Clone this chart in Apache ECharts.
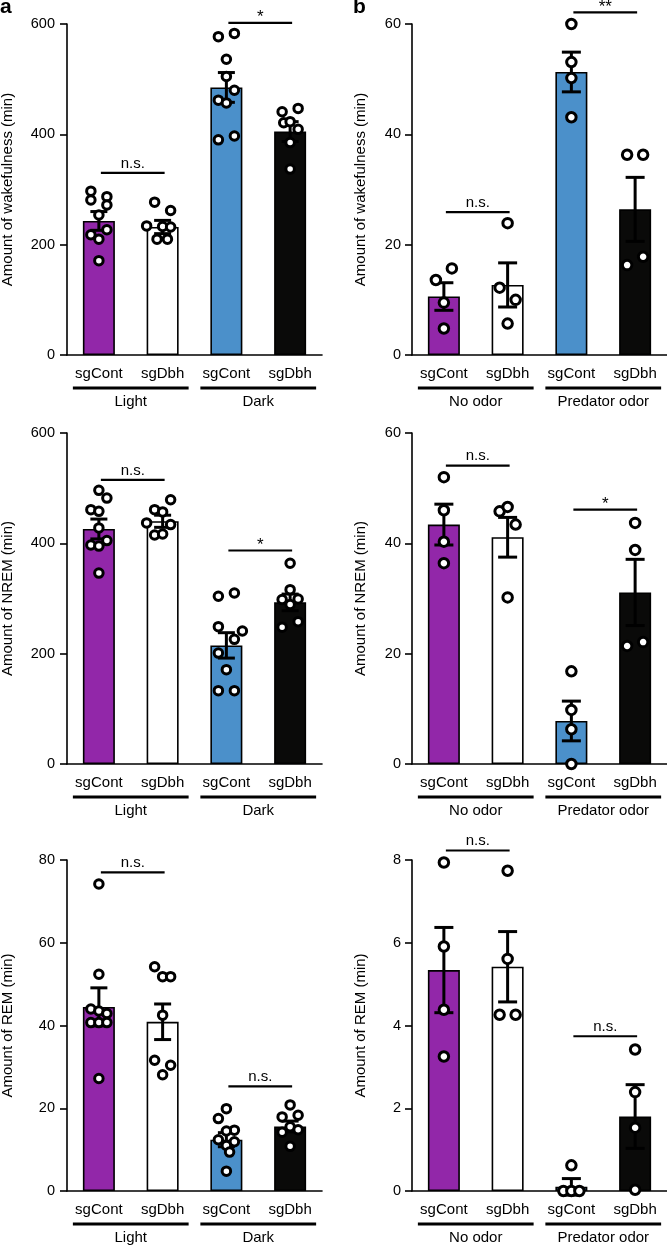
<!DOCTYPE html>
<html><head><meta charset="utf-8">
<script src="https://cdn.jsdelivr.net/npm/echarts@6/dist/echarts.min.js"></script>
<style>html,body{margin:0;padding:0;background:#fff}#c{width:667px;height:1246px}</style>
</head><body><div id="c"></div>
<script>
// ---------- data ----------
const categories = ['sgCont', 'sgDbh', 'sgCont', 'sgDbh'];
const groupsA = ['Light', 'Dark'];
const groupsB = ['No odor', 'Predator odor'];
const groupSpans = [[0, 1], [2, 3]];

// Panel a - wakefulness
const wakeA_mean = [243, 232, 485, 405];
const wakeA_sem = [17, 12, 27, 18];
const wakeA_pts = [
  [297, 281, 287, 272, 254, 218, 210, 227, 171],
  [277, 262, 234, 233, 232, 210, 210],
  [577, 583, 536, 505, 462, 480, 457, 390, 397],
  [441, 447, 421, 423, 409, 385, 337]
];
const wakeA_jit = [
  [-1, -1, 1, 1, 0, -1, 0, 1, 0],
  [-1, 1, -2, 0, 1, -0.7, 0.6],
  [-1, 1, 0, 0, -1, 1, 0, -1, 1],
  [-1, 1, -0.8, 0, 1, 0, 0]
];
const wakeA_sigFrom = [0, 2], wakeA_sigTo = [1, 3], wakeA_sigY = [330, 602], wakeA_sigLabel = ['n.s.', '*'];

// Panel b - wakefulness
const wakeB_mean = [10.6, 12.7, 51.3, 26.4];
const wakeB_sem = [2.5, 4.0, 3.6, 5.8];
const wakeB_pts = [
  [13.6, 15.7, 9.5, 4.8],
  [23.9, 12.2, 10.0, 5.7],
  [60.0, 53.1, 50.2, 43.1],
  [36.3, 36.3, 16.3, 17.8]
];
const wakeB_jit = [[-1, 1, 0, 0], [0, -1, 1, 0], [0, 0, 0, 0], [-1, 1, -1, 1]];
const wakeB_sigFrom = [0, 2], wakeB_sigTo = [1, 3], wakeB_sigY = [25.9, 62.1], wakeB_sigLabel = ['n.s.', '**'];

// Panel a - NREM
const nremA_mean = [426, 440, 215, 293];
const nremA_sem = [18, 11, 23, 15];
const nremA_pts = [
  [496, 482, 461, 458, 428, 397, 405, 395, 346],
  [479, 461, 457, 437, 434, 415, 417],
  [304, 310, 249, 241, 226, 201, 171, 133, 133],
  [364, 316, 298, 299, 289, 248, 258]
];
const nremA_jit = [
  [0, 1, -1, 0, 0, -1, 1, 0, 0],
  [1, -1, 0, -2, 1, -1, 0],
  [-1, 1, -1, 2, 1, -1, 0, -1, 1],
  [0, 0, -1, 1, 0, -1, 1]
];
const nremA_sigFrom = [0, 2], nremA_sigTo = [1, 3], nremA_sigY = [515, 387], nremA_sigLabel = ['n.s.', '*'];

// Panel b - NREM
const nremB_mean = [43.4, 41.1, 7.8, 31.1];
const nremB_sem = [3.7, 3.6, 3.6, 6.0];
const nremB_pts = [
  [52.0, 46.0, 40.3, 36.4],
  [45.8, 46.6, 43.4, 30.2],
  [16.8, 9.8, 6.3, 0.0],
  [43.7, 38.8, 21.4, 22.1]
];
const nremB_jit = [[0, 0, 0, 0], [-1, 0, 1, 0], [0, 0, 0, 0], [0, 0, -1, 1]];
const nremB_sigFrom = [0, 2], nremB_sigTo = [1, 3], nremB_sigY = [54.1, 46.1], nremB_sigLabel = ['n.s.', '*'];

// Panel a - REM
const remA_mean = [44.5, 40.9, 12.4, 15.6];
const remA_sem = [4.6, 4.3, 1.7, 1.3];
const remA_pts = [
  [74.2, 52.4, 44.0, 43.5, 42.9, 40.7, 40.7, 40.7, 27.2],
  [54.2, 51.8, 51.8, 42.5, 31.6, 30.4, 28.1],
  [19.9, 17.5, 14.7, 14.5, 12.4, 11.9, 11.0, 9.4, 4.8],
  [20.8, 17.9, 18.3, 15.5, 14.2, 14.8, 10.8]
];
const remA_jit = [
  [0, 0, -1, 0, 1, -1, 0, 1, 0],
  [-1, 0, 1, 0, -1, 1, 0],
  [0, -1, 1, 0, -1, 1, 0, 0.4, 0],
  [0, -1, 1, 0, -1, 1, 0]
];
const remA_sigFrom = [0, 2], remA_sigTo = [1, 3], remA_sigY = [77.0, 25.3], remA_sigLabel = ['n.s.', 'n.s.'];

// Panel b - REM
const remB_mean = [5.34, 5.42, 0.10, 1.80];
const remB_sem = [1.03, 0.85, 0.20, 0.77];
const remB_pts = [
  [7.94, 5.91, 4.38, 3.25],
  [7.74, 5.61, 4.26, 4.26],
  [0.62, 0.0, 0.0, 0.0],
  [3.42, 2.39, 1.53, 0.03]
];
const remB_jit = [[0, 0, 0, 0], [0, 0, -1, 1], [0, -1, 0, 1], [0, 0, 0, 0]];
const remB_sigFrom = [0, 2], remB_sigTo = [1, 3], remB_sigY = [8.23, 3.74], remB_sigLabel = ['n.s.', 'n.s.'];

const yNames = ['Amount of wakefulness (min)', 'Amount of NREM (min)', 'Amount of REM (min)'];
const yMaxA = [600, 600, 80], yIntA = [200, 200, 20];
const yMaxB = [60, 60, 8], yIntB = [20, 20, 2];

// ---------- styling / layout ----------
const barColors = ['#9227A9', '#ffffff', '#4B90CA', '#0A0A09'];
const FONT = '"Liberation Sans", Arial, Helvetica, sans-serif';
const colLeft = [67, 412], rowTop = [24, 433, 860], gridW = 255, gridH = 331;

const panels = [
  {col: 0, row: 0, mean: wakeA_mean, sem: wakeA_sem, pts: wakeA_pts, jit: wakeA_jit, sf: wakeA_sigFrom, st: wakeA_sigTo, sy: wakeA_sigY, sl: wakeA_sigLabel, groups: groupsA, max: yMaxA[0], int: yIntA[0], name: yNames[0]},
  {col: 1, row: 0, mean: wakeB_mean, sem: wakeB_sem, pts: wakeB_pts, jit: wakeB_jit, sf: wakeB_sigFrom, st: wakeB_sigTo, sy: wakeB_sigY, sl: wakeB_sigLabel, groups: groupsB, max: yMaxB[0], int: yIntB[0], name: yNames[0]},
  {col: 0, row: 1, mean: nremA_mean, sem: nremA_sem, pts: nremA_pts, jit: nremA_jit, sf: nremA_sigFrom, st: nremA_sigTo, sy: nremA_sigY, sl: nremA_sigLabel, groups: groupsA, max: yMaxA[1], int: yIntA[1], name: yNames[1]},
  {col: 1, row: 1, mean: nremB_mean, sem: nremB_sem, pts: nremB_pts, jit: nremB_jit, sf: nremB_sigFrom, st: nremB_sigTo, sy: nremB_sigY, sl: nremB_sigLabel, groups: groupsB, max: yMaxB[1], int: yIntB[1], name: yNames[1]},
  {col: 0, row: 2, mean: remA_mean, sem: remA_sem, pts: remA_pts, jit: remA_jit, sf: remA_sigFrom, st: remA_sigTo, sy: remA_sigY, sl: remA_sigLabel, groups: groupsA, max: yMaxA[2], int: yIntA[2], name: yNames[2]},
  {col: 1, row: 2, mean: remB_mean, sem: remB_sem, pts: remB_pts, jit: remB_jit, sf: remB_sigFrom, st: remB_sigTo, sy: remB_sigY, sl: remB_sigLabel, groups: groupsB, max: yMaxB[2], int: yIntB[2], name: yNames[2]}
];

const grid = [], xAxis = [], yAxis = [], series = [];
panels.forEach((p, i) => {
  const isB = p.col === 1;
  grid.push({left: colLeft[p.col], top: rowTop[p.row], width: gridW, height: gridH, containLabel: false, outerBoundsMode: 'none'});
  xAxis.push({
    type: 'category', gridIndex: i, data: categories,
    axisLine: {onZero: false, lineStyle: {color: '#000', width: 1.6}},
    axisTick: {alignWithLabel: true, length: 8, lineStyle: {color: '#000', width: 1.6}},
    axisLabel: {interval: 0, fontSize: 15, color: '#000', margin: 11, fontFamily: FONT},
    splitLine: {show: false}
  });
  xAxis.push({type: 'value', gridIndex: i, min: -0.5, max: 3.5, show: false,
    axisLine: {show: false, onZero: false}, axisTick: {show: false}, axisLabel: {show: false}, splitLine: {show: false}});
  yAxis.push({
    type: 'value', gridIndex: i, min: 0, max: p.max, interval: p.int,
    axisLine: {show: true, onZero: false, lineStyle: {color: '#000', width: 1.6}},
    axisTick: {show: true, length: 7, lineStyle: {color: '#000', width: 1.6}},
    axisLabel: {fontSize: 14.5, color: '#000', margin: isB ? 11 : 12, fontFamily: FONT},
    splitLine: {show: false},
    name: p.name, nameLocation: 'middle', nameGap: isB ? 44 : 52, nameRotate: 90,
    nameTextStyle: {fontSize: 15, color: '#000', fontFamily: FONT}
  });
  // bars
  series.push({
    type: 'bar', xAxisIndex: 2 * i, yAxisIndex: i, barWidth: 32, z: 2,
    data: p.mean.map((v, k) => ({value: v, itemStyle: {color: barColors[k], borderColor: '#000', borderWidth: 1.6}})),
    silent: true
  });
  // error bars
  const capW = isB ? 19 : 17, ew = 3;
  series.push({
    type: 'custom', xAxisIndex: 2 * i, yAxisIndex: i, z: 3, silent: true,
    encode: {x: 0, y: 1},
    data: p.mean.map((m, k) => [k, m, p.sem[k]]),
    renderItem: (params, api) => {
      const x = api.value(0), m = api.value(1), s = api.value(2);
      const t = api.coord([x, m + s]), b = api.coord([x, m - s]);
      const st = {stroke: '#000', lineWidth: ew, fill: null};
      return {type: 'group', children: [
        {type: 'line', shape: {x1: t[0], y1: t[1], x2: b[0], y2: b[1]}, style: st},
        {type: 'line', shape: {x1: t[0] - capW / 2, y1: t[1], x2: t[0] + capW / 2, y2: t[1]}, style: st},
        {type: 'line', shape: {x1: b[0] - capW / 2, y1: b[1], x2: b[0] + capW / 2, y2: b[1]}, style: st}
      ]};
    }
  });
  // points
  const spread = 8 / (gridW / 4);
  const pts = [];
  p.pts.forEach((arr, k) => arr.forEach((v, j) => pts.push([k + p.jit[k][j] * spread, v])));
  series.push({
    type: 'scatter', xAxisIndex: 2 * i + 1, yAxisIndex: i, z: 4, silent: true,
    symbol: 'circle', symbolSize: isB ? 9.5 : 8.5,
    itemStyle: {color: '#fff', borderColor: '#000', borderWidth: 3, opacity: 1},
    data: pts, clip: false
  });
  // significance bars
  series.push({
    type: 'custom', xAxisIndex: 2 * i, yAxisIndex: i, z: 5, silent: true, clip: false,
    encode: {x: 0, y: 2},
    data: p.sf.map((f, k) => [f, p.st[k], p.sy[k]]),
    renderItem: (params, api) => {
      const a = api.coord([api.value(0), api.value(2)]), b = api.coord([api.value(1), api.value(2)]);
      const lbl = p.sl[params.dataIndex];
      const star = lbl.indexOf('*') >= 0;
      return {type: 'group', children: [
        {type: 'line', shape: {x1: a[0] + 2, y1: a[1], x2: b[0] + 2, y2: b[1]}, style: {stroke: '#000', lineWidth: 2.2}},
        {type: 'text', style: {text: lbl, x: (a[0] + b[0]) / 2 + 2, y: star ? a[1] + 3 : a[1] - 2, align: 'center', verticalAlign: 'bottom', fontSize: star ? 17 : 15, fontFamily: FONT, fill: '#000'}}
      ]};
    }
  });
  // group underlines + labels
  series.push({
    type: 'custom', xAxisIndex: 2 * i, yAxisIndex: i, z: 5, silent: true, clip: false,
    encode: {x: 0, y: 2},
    data: groupSpans.map(g => [g[0], g[1], 0]),
    renderItem: (params, api) => {
      const a = api.coord([api.value(0), 0]), b = api.coord([api.value(1), 0]);
      const y = a[1] + 33;
      return {type: 'group', children: [
        {type: 'line', shape: {x1: a[0] - 26, y1: y, x2: b[0] + 26, y2: y}, style: {stroke: '#000', lineWidth: 3}},
        {type: 'text', style: {text: p.groups[params.dataIndex], x: (a[0] + b[0]) / 2, y: y + 14, align: 'center', verticalAlign: 'middle', fontSize: 15, fontFamily: FONT, fill: '#000'}}
      ]};
    }
  });
});

const chart = echarts.init(document.getElementById('c'), null, {renderer: 'canvas'});
chart.setOption({
  backgroundColor: '#fff',
  animation: false,
  grid, xAxis, yAxis, series,
  graphic: [
    {type: 'text', left: 0, top: -3, style: {text: 'a', fontSize: 21, fontWeight: 'bold', fontFamily: FONT, fill: '#000'}},
    {type: 'text', left: 353, top: -3, style: {text: 'b', fontSize: 21, fontWeight: 'bold', fontFamily: FONT, fill: '#000'}}
  ]
});
</script>
</body></html>
